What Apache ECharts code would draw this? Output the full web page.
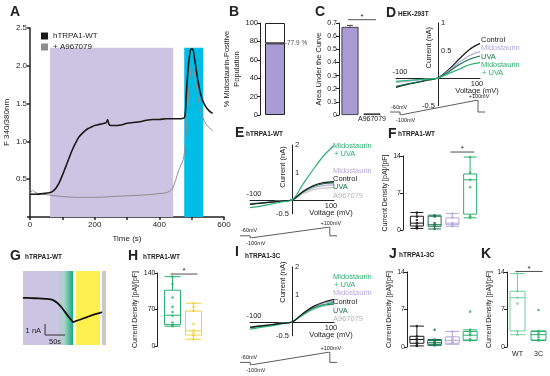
<!DOCTYPE html>
<html><head><meta charset="utf-8">
<script src="https://cdn.jsdelivr.net/npm/echarts@6/dist/echarts.min.js"></script>
<style>html,body{margin:0;padding:0;background:#fff}#c{width:550px;height:376px}</style>
</head><body><div id="c"></div>
<script>
// ================= DATA =================
// A: Fura-2 ratio time course
const aTimeWT  = [0,20,40,60,70,80,90,100,110,120,130,140,150,160,170,180,190,200,210,220,230,236,240,244,250,260,270,285,300,320,340,360,380,400,420,440,460,478,483,488,493,498,503,508,513,518,523,528,535,545,555,565];
const aRatioWT = [0.30,0.30,0.31,0.32,0.34,0.38,0.45,0.55,0.66,0.77,0.88,0.97,1.05,1.10,1.14,1.17,1.19,1.21,1.22,1.23,1.24,1.25,1.29,1.23,1.21,1.21,1.21,1.22,1.24,1.25,1.26,1.28,1.29,1.29,1.30,1.30,1.30,1.32,1.60,1.90,2.12,2.22,2.22,2.12,1.98,1.84,1.72,1.62,1.53,1.45,1.40,1.37];
const aTimeAnt  = [0,8,15,25,40,60,100,150,200,250,300,350,400,420,432,440,450,460,474,480,485,490,495,500,505,510,515,520,525,530,540,550,560,565];
const aRatioAnt = [0.31,0.35,0.33,0.31,0.30,0.29,0.27,0.26,0.26,0.27,0.28,0.29,0.31,0.32,0.34,0.37,0.48,0.62,0.76,0.95,1.25,1.60,1.85,1.96,1.96,1.86,1.72,1.58,1.45,1.36,1.26,1.20,1.16,1.14];
const aXTickLabels = [0,200,400,600];
const aMidoPeriod = [62,443];
const aUvaPeriod  = [477,536];
const aPeriodTop  = 2.24;
const aLegend = ['hTRPA1-WT','+ A967079'];
// B
const bCategories = ['hTRPA1-WT'];
const bPositive = [77.9];
const bNegative = [22.1];
// C
const cCategories = ['', 'A967079'];
const cAUC = [0.67, 0.012];
const cSEM = [0.012, 0];
const cSig = [0, 1, 0.725];
// IV curves
const ivVoltage = [-100,-75,-50,-25,0,25,50,75,100];
const ivXTicks = [-100, 100];
const dYTicks = [-0.5, 0.5, 1];
const eYTicks = [-0.5, 1, 2];
const dControl  = [-0.17,-0.12,-0.08,-0.04,0,0.15,0.34,0.52,0.63];
const dMido     = [-0.08,-0.06,-0.04,-0.02,0,0.13,0.28,0.41,0.48];
const dUVA      = [-0.15,-0.11,-0.075,-0.035,0,0.11,0.24,0.34,0.40];
const dMidoUVA  = [-0.06,-0.045,-0.03,-0.015,0,0.08,0.16,0.24,0.28];
const eMidoUVA  = [-0.28,-0.22,-0.15,-0.07,0,0.55,1.10,1.60,1.98];
const eMido     = [-0.14,-0.11,-0.07,-0.035,0,0.26,0.44,0.52,0.55];
const eControl  = [-0.16,-0.12,-0.08,-0.04,0,0.30,0.52,0.63,0.67];
const eUVA      = [-0.15,-0.11,-0.08,-0.04,0,0.28,0.49,0.59,0.62];
const eA967079  = [-0.13,-0.10,-0.07,-0.03,0,0.22,0.37,0.43,0.45];
const iMidoUVA  = [-0.26,-0.20,-0.14,-0.07,0,0.25,0.48,0.62,0.72];
const iMido     = [-0.20,-0.15,-0.10,-0.05,0,0.28,0.52,0.68,0.76];
const iControl  = [-0.19,-0.14,-0.10,-0.05,0,0.30,0.56,0.72,0.82];
const iUVA      = [-0.21,-0.16,-0.11,-0.05,0,0.27,0.50,0.62,0.66];
const iA967079  = [-0.18,-0.14,-0.09,-0.04,0,0.24,0.45,0.58,0.64];
// voltage protocol (ms, mV)
const protoTime = [0,10,10,88,88,95];
const protoVolt = [-60,-60,-100,100,-60,-60];
// F / J box plots [min, Q1, median, Q3, max]
const condCategories = ['Control','UVA','Midostaurin','Midostaurin + UVA'];
const fBoxes = [[0.3,0.75,1.3,2.6,3.3],[0.2,0.7,1.0,2.6,2.8],[0.7,1.0,1.3,2.3,3.1],[2.3,3.0,9.5,10.6,13.8]];
const fPoints = [[3.3,2.5,1.9,1.3,0.8,0.5,0.3],[2.8,2.5,1.3,1.0,0.7,0.2],[3.1,2.3,1.3,1.0,0.7],[13.8,10.8,9.5,8.1,2.6,2.3]];
const fSig = [2, 3, 14.75];
const jBoxes = [[0.2,0.7,1.4,2.0,3.9],[0.3,0.5,0.8,1.2,1.4],[0.5,0.7,1.2,1.9,2.9],[1.2,1.3,2.2,2.9,3.2]];
const jPoints = [[3.9,2.0,1.6,1.4,1.0,0.7,0.3,0.2],[3.2,1.4,1.2,0.9,0.8,0.5,0.3],[2.9,1.9,1.5,1.2,0.9,0.7],[6.6,3.2,2.9,2.5,2.2,1.5,1.3,1.2]];
// G trace
const gTime    = [0,20,40,60,75,85,97,110,120,125,130,145,160,175,190,197];
const gCurrent = [0,-0.02,-0.05,-0.1,-0.2,-0.45,-0.9,-1.55,-2.0,-2.2,-2.15,-1.95,-1.75,-1.55,-1.4,-1.3];
const gMido = [0,85], gFade = [85,125], gUva = [132,192], gWash = [197,207];
const gScaleBar = [[55,-2.39],[55,-3.39],[105,-3.39]];
// H
const hCategories = ['Midostaurin + UVA','UVA'];
const hBoxes = [[38,41,59,107,133],[13,21,29,67,82]];
const hPoints = [[133,119,93,75,65,58,45,40,38],[82,75,67,42,30,25,20,13]];
const hSig = [0, 1, 138];
// K
const kCategories = ['WT','3C'];
const kBoxes = [[2.3,3.0,9.2,10.4,13.7],[1.2,1.3,2.3,2.9,3.0]];
const kPoints = [[13.7,10.4,9.2,8.1,3.0,2.3],[6.9,3.0,2.6,2.3,1.8,1.3,1.2]];
const kSig = [0, 1, 14.1];

// ================= STYLE =================
const FONT = '"Liberation Sans", Arial, Helvetica, sans-serif';
const COL = {ink:'#222', black:'#1a1a1a', gray:'#a9a9a9', lav:'#b4a8dc', lavFill:'#a99bd3', lavBg:'#cbc4e2',
  green:'#2bb070', dkgreen:'#17744a', cyan:'#00bde8', yellow:'#fcef4e', yellowLine:'#ecd23c', ltgreen:'#72cf9e', wash:'#c9c9c9'};

const chart = echarts.init(document.getElementById('c'), null, {renderer:'canvas', width:550, height:376});
const grids=[], xAxis=[], yAxis=[], series=[];
function grid(box){ grids.push(Object.assign({containLabel:false, outerBoundsMode:'none', show:false}, box)); return grids.length-1; }
function valAxis(gi, min, max, interval, o={}){
  return {gridIndex:gi, type:'value', min, max, interval, offset:o.offset||0,
    axisLine:{show:true, onZero:false, lineStyle:{color:COL.ink, width:o.lw||1}},
    axisTick:{show:true, length:3, lineStyle:{color:COL.ink, width:o.lw||1}},
    axisLabel:{show:true, fontSize:o.fs||7, color:COL.ink, fontFamily:FONT, margin:o.margin||2, formatter:o.fmt},
    splitLine:{show:false},
    name:o.name||'', nameLocation:'middle', nameGap:o.gap||10,
    nameTextStyle:{fontSize:o.nfs||7, fontFamily:FONT, color:COL.ink, lineHeight:o.nlh||9}};
}
function hidden(gi, type, min, max, data){ return {gridIndex:gi, type, min, max, data, show:false}; }
function catAxis(gi, data, showLabels){
  return {gridIndex:gi, type:'category', data,
    axisLine:{show:false}, axisTick:{show:false}, splitLine:{show:false},
    axisLabel:{show:!!showLabels, interval:0, fontSize:7, fontFamily:FONT, color:COL.ink, margin:showLabels===2?1:4}};
}
function ivAxes(gi, ymin, ymax){
  xAxis.push({gridIndex:gi, type:'value', min:-100, max:100,
    axisLine:{show:true, onZero:true, lineStyle:{color:COL.ink, width:1}}, axisTick:{show:false}, axisLabel:{show:false}, splitLine:{show:false}});
  yAxis.push({gridIndex:gi, type:'value', min:ymin, max:ymax,
    axisLine:{show:true, onZero:true, lineStyle:{color:COL.ink, width:1}}, axisTick:{show:false}, axisLabel:{show:false}, splitLine:{show:false}});
}
const zip = (a,b) => a.map((v,i)=>[v,b[i]]);
function ivLine(gi, name, vals, color, w){
  series.push({type:'line', name, xAxisIndex:gi, yAxisIndex:gi, data:zip(ivVoltage, vals), symbol:'none', smooth:0.35,
    lineStyle:{color, width:w||1.2}, itemStyle:{color}, silent:true, z:3});
}
function boxSeries(gi, boxes, colors, bw){
  series.push({type:'boxplot', xAxisIndex:gi, yAxisIndex:gi, boxWidth:[bw,bw], z:3, silent:true,
    data:boxes.map((b,i)=>({value:b, itemStyle:{color:'rgba(255,255,255,0)', borderColor:colors[i], borderWidth:1}}))});
}
function dotSeries(gi, pts, colors){
  const data=[]; pts.forEach((arr,i)=>arr.forEach(v=>data.push({value:[i,v], itemStyle:{color:colors[i]}})));
  series.push({type:'scatter', xAxisIndex:gi, yAxisIndex:gi, symbolSize:2.6, data, z:4, silent:true});
}
function sigSeries(gi, sig){
  series.push({type:'custom', xAxisIndex:gi, yAxisIndex:gi, silent:true, z:5, clip:false, encode:{x:[0,1], y:2}, data:[sig],
    renderItem:(p, api)=>{
      const a = api.coord([api.value(0), api.value(2)]), b = api.coord([api.value(1), api.value(2)]);
      return {type:'group', children:[
        {type:'line', shape:{x1:a[0]-2, y1:a[1], x2:b[0]+4, y2:b[1]}, style:{stroke:COL.ink, lineWidth:0.8}},
        {type:'text', x:(a[0]+b[0])/2+1, y:a[1]+1, style:{text:'*', fontSize:8, fontFamily:FONT, fill:COL.ink, align:'center', verticalAlign:'bottom'}}]};
    }});
}

// ---- A ----
const gA = grid({left:30, top:28, width:194, height:189});
xAxis.push(Object.assign(valAxis(gA, 0, 600, 100, {lw:1.5, fs:8, margin:4, fmt:v=>aXTickLabels.includes(v)?String(v):'', name:'Time (s)', gap:9, nfs:8})));
yAxis.push(valAxis(gA, 0, 2.5, 0.5, {lw:1.5, fs:8, margin:3, fmt:v=>v===0?'':v.toFixed(1), name:'F 340/380nm', gap:19, nfs:8}));
series.push({type:'line', xAxisIndex:gA, yAxisIndex:gA, data:[], silent:true,
  markArea:{silent:true, data:[
    [{xAxis:aMidoPeriod[0], yAxis:0, itemStyle:{color:COL.lavBg}}, {xAxis:aMidoPeriod[1], yAxis:aPeriodTop}],
    [{xAxis:aUvaPeriod[0], yAxis:0, itemStyle:{color:COL.cyan}}, {xAxis:aUvaPeriod[1], yAxis:aPeriodTop}]]}});
series.push({type:'line', name:aLegend[1], xAxisIndex:gA, yAxisIndex:gA, data:zip(aTimeAnt,aRatioAnt), symbol:'none', smooth:0.3,
  lineStyle:{color:'#8e8e8e', width:1}, itemStyle:{color:'#8e8e8e'}, z:3, silent:true});
series.push({type:'line', name:aLegend[0], xAxisIndex:gA, yAxisIndex:gA, data:zip(aTimeWT,aRatioWT), symbol:'none', smooth:0.3,
  lineStyle:{color:COL.black, width:1.6}, itemStyle:{color:COL.black}, z:4, silent:true});

// ---- B ----
const gB = grid({left:260, top:23, width:30, height:92});
xAxis.push({gridIndex:gB, type:'category', data:bCategories, show:false});
yAxis.push(valAxis(gB, 0, 100, 20, {fs:7.5, name:'% Midostaurin-Positive\nPopulation', gap:11, nfs:7.5, nlh:10}));
series.push({type:'bar', xAxisIndex:gB, yAxisIndex:gB, stack:'b', data:bPositive, barWidth:20, silent:true,
  itemStyle:{color:COL.lavFill, borderColor:COL.ink, borderWidth:1}});
series.push({type:'bar', xAxisIndex:gB, yAxisIndex:gB, stack:'b', data:bNegative, barWidth:20, silent:true,
  itemStyle:{color:'#fff', borderColor:COL.ink, borderWidth:1}});
series.push({type:'scatter', xAxisIndex:gB, yAxisIndex:gB, data:bPositive.map((v,i)=>[i,v]), symbolSize:1, silent:true, z:5,
  itemStyle:{color:'rgba(0,0,0,0)'}, label:{show:true, position:'right', distance:5, formatter:p=>'—'+p.value[1]+' %', fontSize:6.5, fontFamily:FONT, color:COL.ink}});

// ---- C ----
const gC = grid({left:339, top:23, width:44, height:92});
xAxis.push(catAxis(gC, cCategories, 2));
yAxis.push(valAxis(gC, 0, 0.7, 0.1, {fs:7, fmt:v=>v===0?'0':v.toFixed(1), name:'Area Under the Curve', gap:10, nfs:7.5}));
series.push({type:'bar', xAxisIndex:gC, yAxisIndex:gC, data:cAUC, barWidth:17, silent:true,
  itemStyle:{color:COL.lavFill, borderColor:COL.ink, borderWidth:0.8}});
series.push({type:'custom', xAxisIndex:gC, yAxisIndex:gC, silent:true, z:5, clip:false, encode:{x:0, y:[1,2]},
  data:cAUC.map((v,i)=>[i, v, v+cSEM[i]]).filter(d=>d[2]>d[1]),
  renderItem:(p, api)=>{
    const a = api.coord([api.value(0), api.value(1)]), b = api.coord([api.value(0), api.value(2)]);
    return {type:'group', children:[
      {type:'line', shape:{x1:a[0], y1:a[1], x2:b[0], y2:b[1]}, style:{stroke:COL.ink, lineWidth:0.8}},
      {type:'line', shape:{x1:b[0]-3, y1:b[1], x2:b[0]+3, y2:b[1]}, style:{stroke:COL.ink, lineWidth:0.8}}]};
  }});
sigSeries(gC, cSig);

// ---- D ----
const gD = grid({left:396, top:23, width:84, height:82.5});
ivAxes(gD, -0.5, 1);
ivLine(gD, 'Control', dControl, COL.black);
ivLine(gD, 'Midostaurin', dMido, COL.lav);
ivLine(gD, 'UVA', dUVA, COL.dkgreen);
ivLine(gD, 'Midostaurin + UVA', dMidoUVA, COL.green);

// ---- E ----
const gE = grid({left:250, top:145, width:84, height:68.75});
ivAxes(gE, -0.5, 2);
ivLine(gE, 'A967079', eA967079, '#c4c4c4');
ivLine(gE, 'Midostaurin', eMido, COL.lav);
ivLine(gE, 'UVA', eUVA, COL.dkgreen);
ivLine(gE, 'Control', eControl, COL.black);
ivLine(gE, 'Midostaurin + UVA', eMidoUVA, COL.green);

// ---- F ----
const gF = grid({left:408, top:156, width:71, height:74});
xAxis.push(catAxis(gF, condCategories, false));
yAxis.push(valAxis(gF, 0, 14, 7, {offset:5, name:'Current Density [pA]/[pF]', gap:9}));
const condColors = [COL.black, COL.dkgreen, COL.lav, COL.green];
boxSeries(gF, fBoxes, condColors, 13);
dotSeries(gF, fPoints, condColors);
sigSeries(gF, fSig);

// ---- G ----
const gG = grid({left:23, top:271, width:83, height:74});
xAxis.push(hidden(gG, 'value', 0, 207));
yAxis.push(hidden(gG, 'value', -4.3, 2.45));
series.push({type:'line', xAxisIndex:gG, yAxisIndex:gG, data:[], silent:true,
  markArea:{silent:true, data:[
    [{xAxis:gMido[0], itemStyle:{color:COL.lavBg}}, {xAxis:gMido[1]}],
    [{xAxis:gFade[0], itemStyle:{color:new echarts.graphic.LinearGradient(0,0,1,0,[{offset:0,color:COL.lavBg},{offset:0.45,color:'#a9d3c8'},{offset:1,color:'#12aa78'}])}}, {xAxis:gFade[1]}],
    [{xAxis:gUva[0], itemStyle:{color:COL.yellow}}, {xAxis:gUva[1]}],
    [{xAxis:gWash[0], itemStyle:{color:COL.wash}}, {xAxis:gWash[1]}]]}});
series.push({type:'line', xAxisIndex:gG, yAxisIndex:gG, data:zip(gTime,gCurrent), symbol:'none', smooth:0.2, silent:true,
  lineStyle:{color:'#111', width:1.8}, z:4});
series.push({type:'line', xAxisIndex:gG, yAxisIndex:gG, data:gScaleBar, symbol:'none', silent:true,
  lineStyle:{color:'#333', width:1}, z:4});

// ---- H ----
const gH = grid({left:162, top:273, width:42, height:73});
xAxis.push(catAxis(gH, hCategories, false));
yAxis.push(valAxis(gH, 0, 140, 70, {offset:4.5, name:'Current Density [pA]/[pF]', gap:17}));
const hColors = [COL.green, COL.yellowLine];
boxSeries(gH, hBoxes, hColors, 16);
dotSeries(gH, hPoints, hColors);
sigSeries(gH, hSig);

// ---- I ----
const gI = grid({left:250, top:267, width:84, height:68.75});
ivAxes(gI, -0.5, 2);
ivLine(gI, 'A967079', iA967079, '#c4c4c4');
ivLine(gI, 'Midostaurin', iMido, COL.lav);
ivLine(gI, 'UVA', iUVA, COL.dkgreen);
ivLine(gI, 'Midostaurin + UVA', iMidoUVA, COL.green);
ivLine(gI, 'Control', iControl, COL.black);

// ---- J ----
const gJ = grid({left:408, top:272, width:71, height:75});
xAxis.push(catAxis(gJ, condCategories, false));
yAxis.push(valAxis(gJ, 0, 14, 7, {offset:1, name:'Current Density [pA]/[pF]', gap:8}));
boxSeries(gJ, jBoxes, condColors, 14);
dotSeries(gJ, jPoints, condColors);

// ---- K ----
const gK = grid({left:507, top:272, width:42, height:75});
xAxis.push(catAxis(gK, kCategories, true));
yAxis.push(valAxis(gK, 0, 14, 7, {name:'Current Density [pA]/[pF]', gap:12}));
const kColors = [COL.ltgreen, COL.green];
boxSeries(gK, kBoxes, kColors, 15);
dotSeries(gK, kPoints, kColors);
sigSeries(gK, kSig);

// ---- voltage protocols ----
const protoGrids = [
  grid({left:390, top:100, width:95, height:15}),
  grid({left:240, top:227, width:97, height:11}),
  grid({left:240, top:352, width:97, height:13})];
protoGrids.forEach(gi=>{
  xAxis.push(hidden(gi,'value',0,95)); yAxis.push(hidden(gi,'value',-100,100));
  series.push({type:'line', xAxisIndex:gi, yAxisIndex:gi, data:zip(protoTime,protoVolt), symbol:'none', silent:true,
    lineStyle:{color:'#333', width:0.8}});
});

chart.setOption({
  animation:false, backgroundColor:'#fff',
  textStyle:{fontFamily:FONT},
  grid:grids, xAxis, yAxis, series,
  legend:{data:aLegend, left:36, top:27, orient:'vertical', itemWidth:7, itemHeight:7, itemGap:3, icon:'rect', selectedMode:false,
    itemStyle:{borderWidth:0},
    textStyle:{fontSize:8, fontFamily:FONT, color:COL.ink}}
});

// ================= TEXT ANNOTATIONS =================
const px = (gi, v) => chart.convertToPixel({gridIndex:gi}, v);
const gr = [];
function txt(x, y, text, o={}){
  gr.push({type:'text', x, y, rotation:o.rot||0, silent:true, z:50,
    style:{text, fill:o.color||COL.ink, fontSize:o.size||7, fontFamily:FONT, fontWeight:o.bold?'bold':'normal',
      align:o.align||'left', verticalAlign:o.va||'middle', lineHeight:o.lh}});
}
// panel letters and titles
[['A',10,12],['B',229,12],['C',315,12],['D',386,13],['E',235,133],['F',388,134],['G',10,256],['H',128,256],['I',235,252],['J',389,254],['K',481,254]]
  .forEach(([t,x,y])=>txt(x,y,t,{size:14,bold:true}));
[['HEK-293T',398,14],['hTRPA1-WT',246,134],['hTRPA1-WT',398,134],['hTRPA1-WT',25,257],['hTRPA1-WT',143,257],['hTRPA1-3C',245,256],['hTRPA1-3C',399,255]]
  .forEach(([t,x,y])=>txt(x,y,t,{size:6.5,bold:true}));

// IV panel axes text
[[gD, dYTicks, 0.55],[gE, eYTicks, 1.2],[gI, eYTicks, 1.45]].forEach(([gi, yt, nameV])=>{
  const a = px(gi,[ivXTicks[0],0]); txt(a[0]+4, a[1]-6, String(ivXTicks[0]), {size:7.5, align:'center'});
  const b = px(gi,[ivXTicks[1],0]); txt(b[0]-3, b[1]+6, String(ivXTicks[1]), {size:7.5, align:'center'});
  txt(b[0]-3, b[1]+13, 'Voltage (mV)', {size:7.5, align:'center'});
  yt.forEach(v=>{ const p = px(gi,[0,v]); if(v>0) txt(p[0]+3, p[1], String(v), {size:7.5}); else txt(p[0]-3, p[1], String(v), {size:7.5, align:'right'}); });
  const n = px(gi,[0,nameV]); txt(n[0]-9, n[1], 'Current (nA)', {size:7.5, rot:Math.PI/2, align:'center'});
});
// IV curve labels
const ivLabels = [
  [481, [['Control',40,COL.black],['Midostaurin',48,COL.lav],['UVA',57,COL.dkgreen],['Midostaurin',65,COL.green],['+ UVA',73,COL.green]]],
  [333, [['Midostaurin',146,COL.green],['+ UVA',154,COL.green],['Midostaurin',171,COL.lav],['Control',179,COL.black],['UVA',187,COL.dkgreen],['A967079',196,'#b5b5b5']]],
  [333, [['Midostaurin',277,COL.green],['+ UVA',285,COL.green],['Midostaurin',293,COL.lav],['Control',302,COL.black],['UVA',311,COL.dkgreen],['A967079',319,'#b5b5b5']]]];
ivLabels.forEach(([x, rows])=>rows.forEach(([t,y,c])=>txt(x + (t==='+ UVA'?1:0), y, t, {size:7.5, color:c})));
// protocol labels
protoGrids.forEach(gi=>{
  const a = px(gi,[protoTime[0], protoVolt[0]]); txt(a[0]+1, a[1]-5, '-60mV', {size:5.5});
  const b = px(gi,[protoTime[2], protoVolt[2]]); txt(b[0]-4, b[1]+5, '-100mV', {size:5.5});
  const c = px(gi,[protoTime[3], protoVolt[3]]); txt(c[0]+1, c[1]-4, '+100mV', {size:5.5, align:'center'});
});
// G scale bar labels
const s1 = px(gG, [gScaleBar[0][0], (gScaleBar[0][1]+gScaleBar[1][1])/2]); txt(s1[0]-4, s1[1]+1, '1 nA', {size:7.5, align:'right'});
const s2 = px(gG, [(gScaleBar[1][0]+gScaleBar[2][0])/2, gScaleBar[2][1]]); txt(s2[0], s2[1]+7, '50s', {size:7.5, align:'center'});

chart.setOption({graphic:gr});
</script></body></html>
